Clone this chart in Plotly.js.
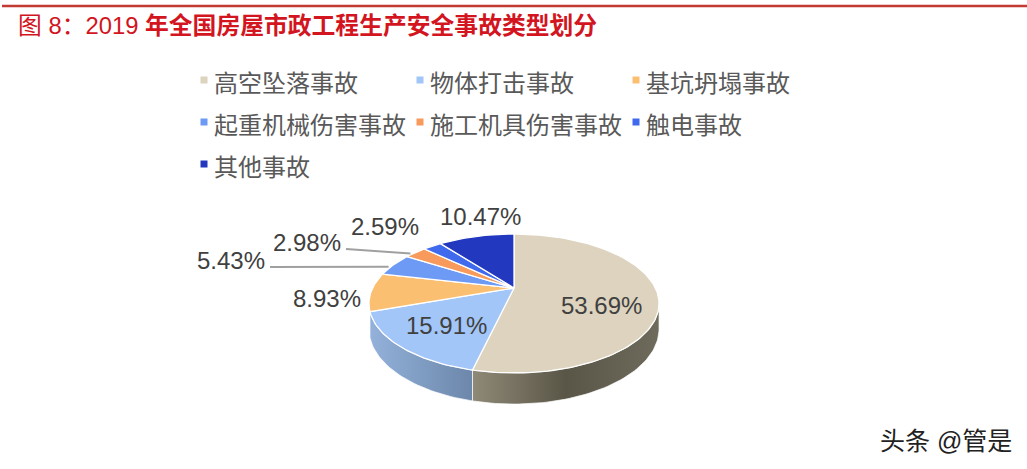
<!DOCTYPE html>
<html><head><meta charset="utf-8">
<script src="https://cdn.plot.ly/plotly-3.0.1.min.js"></script>
<style>html,body{margin:0;padding:0;background:#fff}</style></head>
<body><div id="chart" style="width:1027px;height:469px"></div>
<script>
// ---- data ----
const categories = ['高空坠落事故','物体打击事故','基坑坍塌事故','起重机械伤害事故','施工机具伤害事故','触电事故','其他事故'];
const shares = [53.69, 15.91, 8.93, 5.43, 2.98, 2.59, 10.47];
const sliceColors = ['#DDD3BE','#A3C6F8','#FBBF71','#6D9AF5','#F79A5C','#3F6AEE','#2238BE'];
// ---- styling and placement ----
const FONT_LATIN = 'Liberation Sans, Arial, sans-serif';
const FONT_CJK = '"Noto Sans CJK SC", sans-serif';
const FONT_MIXED = '"Liberation Sans", "Noto Sans CJK SC", sans-serif';
const PLOT_W = 800; // right margin keeps the legend to three columns
const labelAnchors = [[601.5,305],[446,325],[327,298],[231,260],[307,242],[385,226],[480,216]];
const leaderStarts = {3:[270,267], 4:[346,249]};
const sideGradients = {0:['#8F8977','#5A5647','#6E6A5C'], 1:['#93B1DA','#6C87AA']};
const C = {cx:514, cy:288, a:141.4, b:66, k:0.223, depth:24.2};

function project(deg, drop){
  const t = deg*Math.PI/180, X = Math.sin(t), Y = Math.cos(t), w = 1 + C.k*Y;
  return [C.cx + C.a*X/w, C.cy - C.b*Y/w + (drop ? C.depth/w : 0)];
}
function arc(from, to, drop){
  const n = Math.max(2, Math.ceil(Math.abs(to-from)/1.5)), pts = [];
  for(let i=0;i<=n;i++) pts.push(project(from+(to-from)*i/n, drop));
  return pts;
}
const total = shares.reduce((s,v)=>s+v,0);
let run = 0;
const bounds = shares.map(v=>{const s=run/total*360; run+=v; return [s, run/total*360];});

const traces = [];
// side walls: only the near part of the rim is visible
const RIGHTMOST = 90 + 12.9;
[[0, RIGHTMOST, bounds[0][1]], [1, bounds[1][0], bounds[1][1]]].forEach(([i,from,to])=>{
  const top = arc(from,to,false), low = arc(to,from,true), ring = top.concat(low,[top[0]]);
  const st = sideGradients[i];
  traces.push({type:'scatter',mode:'lines',x:ring.map(p=>p[0]),y:ring.map(p=>p[1]),
    fill:'toself',line:{color:'rgba(255,255,255,0.7)',width:1},
    fillgradient:{type:'horizontal',colorscale:st.map((c,j)=>[j/(st.length-1),c])},
    hoverinfo:'skip',showlegend:false});
});
// top face
bounds.forEach((b,i)=>{
  const rim = arc(b[0],b[1],false), ring = [[C.cx,C.cy]].concat(rim,[[C.cx,C.cy]]);
  traces.push({type:'scatter',mode:'lines',x:ring.map(p=>p[0]),y:ring.map(p=>p[1]),
    fill:'toself',fillcolor:sliceColors[i],line:{color:'#FFFFFF',width:1.3},
    name:categories[i],hoverinfo:'name',showlegend:false});
});
// leader lines
Object.keys(leaderStarts).forEach(k=>{
  const mid = project((bounds[k][0]+bounds[k][1])/2,false), s = leaderStarts[k];
  traces.push({type:'scatter',mode:'lines',x:[s[0],mid[0]-5],y:[s[1],mid[1]+(k==3?2:1)],
    line:{color:'#A0A0A0',width:2},hoverinfo:'skip',showlegend:false});
});
// legend entries (outer legend font sets the 42px row pitch, the span sets the glyph size)
categories.forEach((c,i)=>traces.push({type:'scatter',mode:'markers',x:[null],y:[null],
  name:'<span style="font-size:24px">'+c+'</span>',
  marker:{symbol:'square',size:7,color:sliceColors[i]},hoverinfo:'skip',showlegend:true}));

const annotations = shares.map((v,i)=>({xref:'x',yref:'y',x:labelAnchors[i][0],y:labelAnchors[i][1],
  text:v.toFixed(2)+'%',showarrow:false,xanchor:'center',yanchor:'middle',
  font:{family:FONT_LATIN,size:24,color:'#404040'}}));
annotations.push({xref:'paper',yref:'paper',x:1014/PLOT_W,y:1-441/469,text:'头条 @管是',showarrow:false,
  xanchor:'right',yanchor:'middle',font:{family:FONT_MIXED,size:25,color:'#222222'}});

Plotly.newPlot('chart',traces,{
  width:1027,height:469,autosize:false,
  margin:{l:0,r:1027-PLOT_W,t:0,b:0,autoexpand:false},
  paper_bgcolor:'#FFFFFF',plot_bgcolor:'#FFFFFF',
  title:{text:'图 8：2019 <b>年全国房屋市政工程生产安全事故类型划分</b>',x:18/1027,xanchor:'left',y:1-26/469,yanchor:'middle',
    font:{family:FONT_MIXED,size:23.8,color:'#D2151E'}},
  xaxis:{range:[0,PLOT_W],visible:false,fixedrange:true},
  yaxis:{range:[469,0],visible:false,fixedrange:true},
  legend:{orientation:'h',x:174/PLOT_W,xanchor:'left',y:1-54/469,yanchor:'top',
    entrywidth:171,entrywidthmode:'pixels',tracegroupgap:0,itemwidth:30,
    font:{family:FONT_CJK,size:30,color:'#595959'},bgcolor:'rgba(0,0,0,0)'},
  shapes:[{type:'line',xref:'paper',yref:'paper',x0:2/PLOT_W,x1:1027/PLOT_W,y0:1-6/469,y1:1-6/469,line:{color:'#C23A33',width:2.5}}],
  annotations
},{displayModeBar:false}).then(gd=>{
  const nudge=()=>gd.querySelectorAll('.legend .legendsymbols').forEach(g=>g.setAttribute('transform','translate(10,0)'));
  nudge(); gd.on('plotly_afterplot',nudge);
});
</script></body></html>
